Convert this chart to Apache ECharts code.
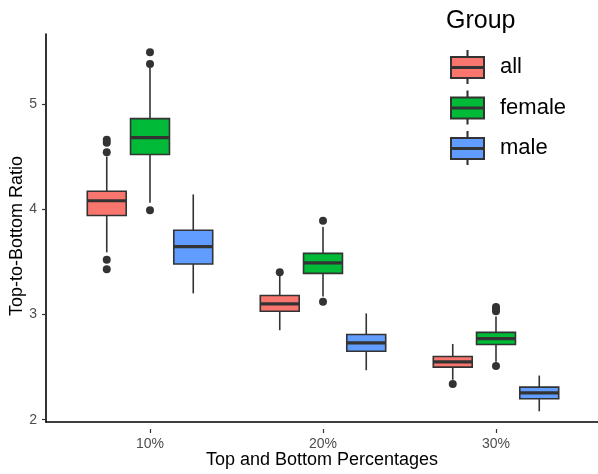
<!DOCTYPE html>
<html><head><meta charset="utf-8">
<script src="https://cdn.jsdelivr.net/npm/echarts@6/dist/echarts.min.js"></script>
<style>html,body{margin:0;padding:0;background:#fff}#c{width:598px;height:474px}</style>
</head><body><div id="c"></div>
<script>
const categories = ['10%', '20%', '30%'];
const groups = ['all', 'female', 'male'];
const colors = ['#F8766D', '#00BA38', '#619CFF'];
// [lowWhisker, Q1, median, Q3, highWhisker] per category
const allBox = [[3.59, 3.94, 4.08, 4.17, 4.50], [2.85, 3.03, 3.10, 3.18, 3.37], [2.38, 2.50, 2.55, 2.60, 2.72]];
const femaleBox = [[4.06, 4.52, 4.68, 4.86, 5.34], [3.17, 3.39, 3.49, 3.58, 3.83], [2.55, 2.715, 2.77, 2.83, 2.98]];
const maleBox = [[3.20, 3.48, 3.645, 3.80, 4.14], [2.47, 2.65, 2.73, 2.81, 3.01], [2.08, 2.20, 2.255, 2.31, 2.42]];
// outliers per category
const allOut = [[4.54, 4.63, 4.66, 3.52, 3.43], [3.40], [2.34]];
const femaleOut = [[5.38, 5.49, 3.99], [3.89, 3.12], [3.03, 3.05, 3.07, 2.51]];
const maleOut = [[], [], []];
const yTicks = [2, 3, 4, 5];
const yRange = [1.912, 5.664];

const boxes = [allBox, femaleBox, maleBox];
const outs = [allOut, femaleOut, maleOut];
const FONT = 'Liberation Sans';
const DODGE = 0.25, BOXW = 0.225;

function boxRender(gi) {
  return function (params, api) {
    const cat = api.value(0);
    const band = api.size([1, 0])[0];
    const cx = api.coord([cat, api.value(3)])[0] + (gi - 1) * DODGE * band;
    const hw = BOXW * band / 2;
    const yL = api.coord([cat, api.value(1)])[1];
    const y1 = api.coord([cat, api.value(2)])[1];
    const yM = api.coord([cat, api.value(3)])[1];
    const y3 = api.coord([cat, api.value(4)])[1];
    const yH = api.coord([cat, api.value(5)])[1];
    const ls = { stroke: '#333333', lineWidth: 1.6 };
    return {
      type: 'group', children: [
        { type: 'line', shape: { x1: cx, y1: yH, x2: cx, y2: y3 }, style: ls },
        { type: 'line', shape: { x1: cx, y1: y1, x2: cx, y2: yL }, style: ls },
        { type: 'rect', shape: { x: cx - hw, y: y3, width: 2 * hw, height: y1 - y3 }, style: { fill: colors[gi], stroke: '#333333', lineWidth: 1.6 } },
        { type: 'line', shape: { x1: cx - hw, y1: yM, x2: cx + hw, y2: yM }, style: { stroke: '#333333', lineWidth: 3.2 } }
      ]
    };
  };
}
function outRender(gi) {
  return function (params, api) {
    const cat = api.value(0);
    const band = api.size([1, 0])[0];
    const p = api.coord([cat, api.value(1)]);
    return { type: 'circle', shape: { cx: p[0] + (gi - 1) * DODGE * band, cy: p[1], r: 4 }, style: { fill: '#333333' } };
  };
}

const series = [];
groups.forEach(function (g, gi) {
  series.push({
    name: g, type: 'custom', xAxisIndex: 1, yAxisIndex: 1,
    itemStyle: { color: colors[gi] },
    renderItem: boxRender(gi),
    encode: { x: 0, y: [1, 2, 3, 4, 5] },
    data: boxes[gi].map(function (b, ci) { return [ci].concat(b); })
  });
});
groups.forEach(function (g, gi) {
  const d = [];
  outs[gi].forEach(function (arr, ci) { arr.forEach(function (v) { d.push([ci, v]); }); });
  series.push({
    name: g + ' outliers', type: 'custom', xAxisIndex: 1, yAxisIndex: 1,
    renderItem: outRender(gi), encode: { x: 0, y: 1 }, data: d, z: 3
  });
});

const chart = echarts.init(document.getElementById('c'), null, { renderer: 'canvas' });
chart.setOption({
  animation: false,
  backgroundColor: '#ffffff',
  textStyle: { fontFamily: FONT },
  title: { text: 'Group', left: 446, top: 9, padding: 0, textStyle: { fontFamily: FONT, fontSize: 25, fontWeight: 'normal', color: '#000' } },
  legend: {
    data: groups, orient: 'vertical', left: 450, top: 50, padding: 0,
    itemWidth: 33, itemHeight: 32, itemGap: 6.5,
    icon: 'path://M16.45,0H16.55V6H16.45Z M0,6H33V16H0Z M0,17H33V27H0Z M16.45,27H16.55V32H16.45Z',
    itemStyle: { borderColor: '#333333', borderWidth: 2 },
    textStyle: { fontFamily: FONT, fontSize: 22, color: '#000', padding: [0, 0, 0, 11] },
    selectedMode: false
  },
  grid: [
    { left: 46, right: 0, top: 34, bottom: 45 },
    { left: 63.5, right: 15.5, top: 34, bottom: 45 },
    { left: 46, right: 0, top: 104, bottom: 54.3 }
  ],
  xAxis: [
    { gridIndex: 0, type: 'value', min: 0, max: 1, axisLine: { show: true, lineStyle: { color: '#000', width: 1.6 } }, axisTick: { show: false }, axisLabel: { show: false }, splitLine: { show: false },
      name: 'Top and Bottom Percentages', nameLocation: 'middle', nameGap: 29, nameTextStyle: { fontFamily: FONT, fontSize: 18, color: '#000' } },
    { gridIndex: 1, type: 'category', data: categories, axisLine: { show: false }, axisTick: { show: true, alignWithLabel: true, length: 4, lineStyle: { color: '#333333', width: 1.2 } },
      axisLabel: { margin: 8, fontFamily: FONT, fontSize: 14, color: '#4d4d4d' }, splitLine: { show: false } },
    { gridIndex: 2, type: 'value', show: false, min: 0, max: 1 }
  ],
  yAxis: [
    { gridIndex: 0, type: 'value', min: 0, max: 1, axisLine: { show: true, lineStyle: { color: '#000', width: 1.6 } }, axisTick: { show: false }, axisLabel: { show: false }, splitLine: { show: false },
      name: 'Top-to-Bottom Ratio', nameLocation: 'middle', nameGap: 20, nameTextStyle: { fontFamily: FONT, fontSize: 18, color: '#000', padding: [0, 16, 0, 0] } },
    { gridIndex: 1, type: 'value', min: yRange[0], max: yRange[1], show: false },
    { gridIndex: 2, type: 'value', min: yTicks[0], max: yTicks[yTicks.length - 1], interval: 1, axisLine: { show: false },
      axisTick: { show: true, length: 4, lineStyle: { color: '#333333', width: 1.2 } }, splitLine: { show: false },
      axisLabel: { margin: 9, fontFamily: FONT, fontSize: 14, color: '#4d4d4d' } }
  ],
  series: series
});
</script></body></html>
